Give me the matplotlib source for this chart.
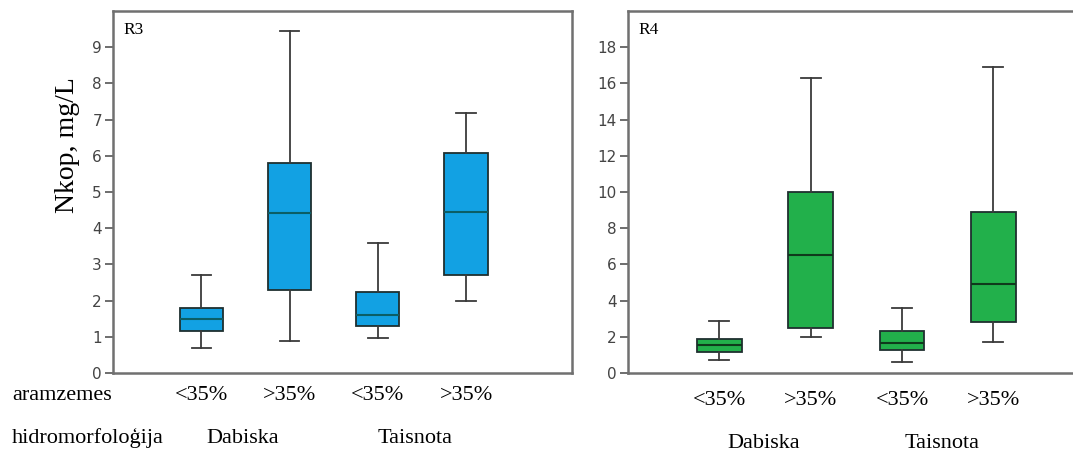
import matplotlib
matplotlib.use("Agg")
import matplotlib.pyplot as plt
from matplotlib.transforms import blended_transform_factory

# box statistics: whisker low, Q1, median, Q3, whisker high
groups = ["<35%", ">35%", "<35%", ">35%"]
hydro = ["Dabiska", "Taisnota"]

r3_low = [0.69, 0.89, 0.98, 2.00]
r3_q1 = [1.15, 2.28, 1.29, 2.70]
r3_med = [1.49, 4.43, 1.61, 4.46]
r3_q3 = [1.79, 5.80, 2.23, 6.09]
r3_high = [2.70, 9.46, 3.59, 7.18]

r4_low = [0.70, 1.99, 0.59, 1.69]
r4_q1 = [1.16, 2.49, 1.29, 2.80]
r4_med = [1.57, 6.50, 1.66, 4.94]
r4_q3 = [1.88, 9.98, 2.30, 8.88]
r4_high = [2.89, 16.28, 3.59, 16.89]


def make_stats(low, q1, med, q3, high):
    return [dict(whislo=a, q1=b, med=c, q3=d, whishi=e, fliers=[])
            for a, b, c, d, e in zip(low, q1, med, q3, high)]


fig = plt.figure(figsize=(10.73, 4.53), dpi=100)
ax1 = fig.add_axes([0.1053, 0.1766, 0.4278, 0.799])
ax2 = fig.add_axes([0.5853, 0.1766, 0.4427, 0.799])

serif = "Liberation Serif"


def draw(ax, stats, fill, medcol, ylim, yticks, tag, lab_pad, lab_y, hyd_x):
    ax.bxp(stats, positions=[1, 2, 3, 4], widths=0.49, patch_artist=True,
           showfliers=False,
           boxprops=dict(facecolor=fill, edgecolor="#1f2f2f", linewidth=1.3),
           medianprops=dict(color=medcol, linewidth=1.5),
           whiskerprops=dict(color="#3a3a3a", linewidth=1.3),
           capprops=dict(color="#3a3a3a", linewidth=1.3),
           capwidths=0.22)
    ax.set_xlim(0, 5.2)
    ax.set_ylim(*ylim)
    ax.set_yticks(yticks)
    ax.tick_params(axis="y", direction="out", length=6, width=1.2,
                   color="#555555", labelcolor="#444444", labelsize=11, pad=2)
    ax.set_xticks([1, 2, 3, 4])
    ax.set_xticklabels(groups, fontfamily=serif, fontsize=16)
    ax.tick_params(axis="x", length=0, pad=lab_pad)
    for s in ax.spines.values():
        s.set_color("#707070")
        s.set_linewidth(1.8)
    ax.text(0.022, 0.97, tag, transform=ax.transAxes, fontfamily=serif,
            fontsize=12.5, va="top", ha="left")
    tr = blended_transform_factory(ax.transData, fig.transFigure)
    for x, name in zip(hyd_x, hydro):
        ax.text(x, lab_y, name, transform=tr, fontfamily=serif, fontsize=16,
                ha="center", va="center")


draw(ax1, make_stats(r3_low, r3_q1, r3_med, r3_q3, r3_high),
     "#12a1e3", "#0b5e66", (0, 10), range(0, 10), "R3", 9, 0.033, [1.47, 3.42])
draw(ax2, make_stats(r4_low, r4_q1, r4_med, r4_q3, r4_high),
     "#22b04b", "#0f3a1c", (0, 20), range(0, 20, 2), "R4", 13, 0.022, [1.48, 3.44])

fig.text(0.011, 0.128, "aramzemes", fontfamily=serif, fontsize=16,
         ha="left", va="center")
fig.text(0.011, 0.033, "hidromorfoloģija", fontfamily=serif, fontsize=16,
         ha="left", va="center")
fig.text(0.063, 0.68, "Nkop, mg/L", fontfamily=serif, fontsize=20,
         rotation=90, ha="center", va="center")

fig.savefig("out.png", dpi=100)
